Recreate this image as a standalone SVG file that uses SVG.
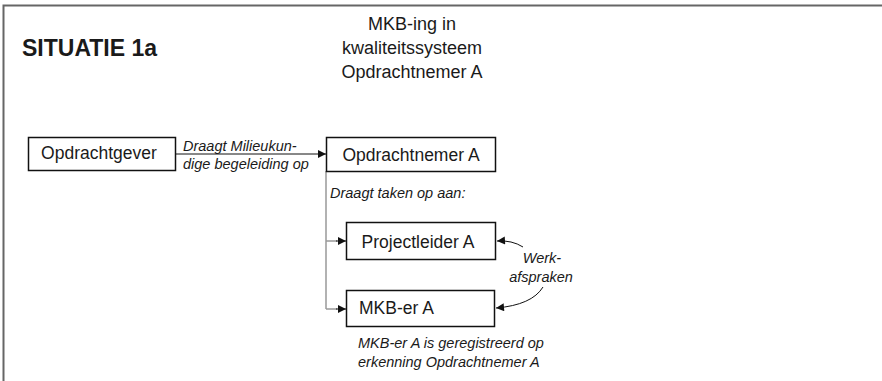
<svg xmlns="http://www.w3.org/2000/svg" width="882" height="381" viewBox="0 0 882 381">
<style>
text{font-family:"Liberation Sans",Arial,sans-serif;fill:#1a1a1a}
.box{fill:#fff;stroke:#111;stroke-width:1.5}
.lbl{font-size:17.5px}
.it{font-size:14.5px;font-style:italic}
.ttl{font-size:18px;text-anchor:middle}
.blk{stroke:#111;stroke-width:1;fill:none}
.gry{stroke:#999;stroke-width:1.5;fill:none}
</style>
<defs>
<marker id="ah" viewBox="0 0 10 10" refX="10" refY="5" markerWidth="9" markerHeight="8" markerUnits="userSpaceOnUse" orient="auto">
<path d="M0,0 L10,5 L0,10 z" fill="#111"/>
</marker>
</defs>
<rect width="882" height="381" fill="#fff"/>
<path d="M3.5,381 V5.5 H882" fill="none" stroke="#666" stroke-width="2"/>
<text x="22" y="56" font-size="23" font-weight="bold">SITUATIE 1a</text>
<g id="title">
<text class="ttl" x="412" y="30">MKB-ing in</text>
<text class="ttl" x="412" y="54">kwaliteitssysteem</text>
<text class="ttl" x="412" y="78">Opdrachtnemer A</text>
</g>
<g id="connectors">
<line class="blk" x1="176" y1="154" x2="326" y2="154" marker-end="url(#ah)"/>
<path class="gry" d="M326,171 V309"/>
<line class="gry" x1="326" y1="241" x2="337" y2="241"/>
<line class="blk" x1="336" y1="241" x2="346" y2="241" marker-end="url(#ah)"/>
<line class="gry" x1="326" y1="309" x2="337" y2="309"/>
<line class="blk" x1="336" y1="309" x2="346" y2="309" marker-end="url(#ah)"/>
<path class="blk" d="M523,247 Q512,240 497,241" marker-end="url(#ah)"/>
<path class="blk" d="M543,287 Q532,305 496,308" marker-end="url(#ah)"/>
<text class="it" x="183" y="151">Draagt Milieukun-</text>
<text class="it" x="183" y="169">dige begeleiding op</text>
<text class="it" x="330" y="198">Draagt taken op aan:</text>
<text class="it" x="542" y="263" text-anchor="middle">Werk-</text>
<text class="it" x="541" y="282" text-anchor="middle">afspraken</text>
</g>
<g id="opdrachtgever">
<rect class="box" x="28.5" y="137.5" width="147" height="33"/>
<text class="lbl" x="99" y="159" text-anchor="middle">Opdrachtgever</text>
</g>
<g id="opdrachtnemer">
<rect class="box" x="326.5" y="137.5" width="169" height="34"/>
<text class="lbl" x="411" y="161" text-anchor="middle">Opdrachtnemer A</text>
</g>
<g id="projectleider">
<rect class="box" x="346.5" y="222.5" width="149" height="37"/>
<text class="lbl" x="418" y="248" font-size="18" text-anchor="middle">Projectleider A</text>
</g>
<g id="mkb-er">
<rect class="box" x="346.5" y="290.5" width="148" height="36"/>
<text class="lbl" x="359" y="314">MKB-er A</text>
<text class="it" x="358" y="348">MKB-er A is geregistreerd op</text>
<text class="it" x="358" y="367">erkenning Opdrachtnemer A</text>
</g>
</svg>
